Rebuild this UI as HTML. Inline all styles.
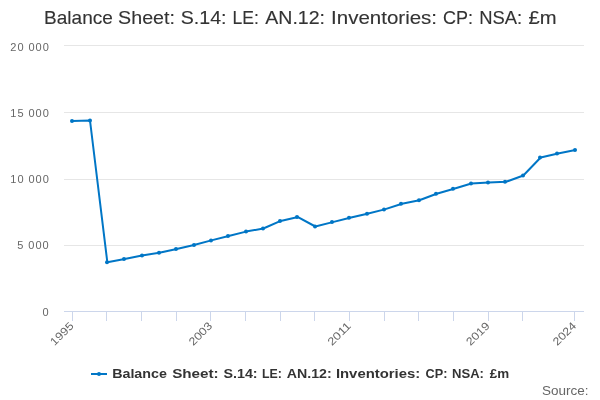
<!DOCTYPE html>
<html><head><meta charset="utf-8"><style>
html,body{margin:0;padding:0;background:#fff;width:600px;height:400px;overflow:hidden}
svg{display:block;font-family:"Liberation Sans",sans-serif;will-change:transform}
</style></head><body>
<svg width="600" height="400" viewBox="0 0 600 400">
<rect width="600" height="400" fill="#fff"/>
<g font-size="18.6" fill="#333" stroke="#333" stroke-width="0.12">
<text x="44.14" y="24" textLength="68.70" lengthAdjust="spacingAndGlyphs">Balance</text>
<text x="118.11" y="24" textLength="56.79" lengthAdjust="spacingAndGlyphs">Sheet:</text>
<text x="180.71" y="24" textLength="45.78" lengthAdjust="spacingAndGlyphs">S.14:</text>
<text x="232.56" y="24" textLength="26.34" lengthAdjust="spacingAndGlyphs">LE:</text>
<text x="265.26" y="24" textLength="59.77" lengthAdjust="spacingAndGlyphs">AN.12:</text>
<text x="331.11" y="24" textLength="105.96" lengthAdjust="spacingAndGlyphs">Inventories:</text>
<text x="442.99" y="24" textLength="29.95" lengthAdjust="spacingAndGlyphs">CP:</text>
<text x="479.19" y="24" textLength="42.99" lengthAdjust="spacingAndGlyphs">NSA:</text>
<text x="528.43" y="24" textLength="28.11" lengthAdjust="spacingAndGlyphs">£m</text>
</g>
<g stroke="#e6e6e6" stroke-width="1">
<line x1="64" y1="45.5" x2="584" y2="45.5"/>
<line x1="64" y1="112.5" x2="584" y2="112.5"/>
<line x1="64" y1="179.5" x2="584" y2="179.5"/>
<line x1="64" y1="245.5" x2="584" y2="245.5"/>
</g>
<g stroke="#ccd6eb" stroke-width="1">
<line x1="64" y1="311.5" x2="584" y2="311.5"/>
<line x1="72.5" y1="311" x2="72.5" y2="321"/>
<line x1="106.5" y1="311" x2="106.5" y2="321"/>
<line x1="141.5" y1="311" x2="141.5" y2="321"/>
<line x1="176.5" y1="311" x2="176.5" y2="321"/>
<line x1="210.5" y1="311" x2="210.5" y2="321"/>
<line x1="245.5" y1="311" x2="245.5" y2="321"/>
<line x1="280.5" y1="311" x2="280.5" y2="321"/>
<line x1="314.5" y1="311" x2="314.5" y2="321"/>
<line x1="349.5" y1="311" x2="349.5" y2="321"/>
<line x1="384.5" y1="311" x2="384.5" y2="321"/>
<line x1="418.5" y1="311" x2="418.5" y2="321"/>
<line x1="453.5" y1="311" x2="453.5" y2="321"/>
<line x1="488.5" y1="311" x2="488.5" y2="321"/>
<line x1="522.5" y1="311" x2="522.5" y2="321"/>
<line x1="574.5" y1="311" x2="574.5" y2="321"/>
</g>
<g font-size="11" fill="#666" lengthAdjust="spacingAndGlyphs">
<text x="10.3" y="51" textLength="38.5">20 000</text>
<text x="10.3" y="117" textLength="38.5">15 000</text>
<text x="10.3" y="183" textLength="38.5">10 000</text>
<text x="17.2" y="249" textLength="31.5">5 000</text>
<text x="48.5" y="316" text-anchor="end">0</text>
</g>
<g font-size="11" fill="#666">
<text x="74.37" y="326.5" transform="rotate(-45 74.37 326.5)" text-anchor="end" textLength="28" lengthAdjust="spacingAndGlyphs">1995</text>
<text x="213.03" y="326.5" transform="rotate(-45 213.03 326.5)" text-anchor="end" textLength="28" lengthAdjust="spacingAndGlyphs">2003</text>
<text x="351.70" y="326.5" transform="rotate(-45 351.70 326.5)" text-anchor="end" textLength="28" lengthAdjust="spacingAndGlyphs">2011</text>
<text x="490.37" y="326.5" transform="rotate(-45 490.37 326.5)" text-anchor="end" textLength="28" lengthAdjust="spacingAndGlyphs">2019</text>
<text x="577.03" y="326.5" transform="rotate(-45 577.03 326.5)" text-anchor="end" textLength="28" lengthAdjust="spacingAndGlyphs">2024</text>
</g>
<polyline points="72.67,121.00 90.00,120.50 107.33,262.25 124.67,259.10 142.00,255.40 159.33,252.75 176.67,249.00 194.00,245.00 211.33,240.40 228.67,236.00 246.00,231.60 263.33,228.50 280.67,220.90 298.00,217.10 315.33,226.50 332.67,222.10 350.00,217.75 367.33,213.75 384.67,209.40 402.00,203.75 419.33,200.25 436.67,193.75 454.00,188.75 471.33,183.50 488.67,182.50 506.00,181.80 523.33,175.50 540.67,157.50 558.00,153.45 575.33,150.00" fill="none" stroke="#0076c6" stroke-width="2" stroke-linejoin="round" stroke-linecap="round"/>
<g fill="#0076c6">
<circle cx="72" cy="121.00" r="2"/>
<circle cx="90" cy="120.50" r="2"/>
<circle cx="107" cy="262.25" r="2"/>
<circle cx="124" cy="259.10" r="2"/>
<circle cx="142" cy="255.40" r="2"/>
<circle cx="159" cy="252.75" r="2"/>
<circle cx="176" cy="249.00" r="2"/>
<circle cx="194" cy="245.00" r="2"/>
<circle cx="211" cy="240.40" r="2"/>
<circle cx="228" cy="236.00" r="2"/>
<circle cx="246" cy="231.60" r="2"/>
<circle cx="263" cy="228.50" r="2"/>
<circle cx="280" cy="220.90" r="2"/>
<circle cx="297" cy="217.10" r="2"/>
<circle cx="315" cy="226.50" r="2"/>
<circle cx="332" cy="222.10" r="2"/>
<circle cx="349" cy="217.75" r="2"/>
<circle cx="367" cy="213.75" r="2"/>
<circle cx="384" cy="209.40" r="2"/>
<circle cx="401" cy="203.75" r="2"/>
<circle cx="419" cy="200.25" r="2"/>
<circle cx="436" cy="193.75" r="2"/>
<circle cx="453" cy="188.75" r="2"/>
<circle cx="471" cy="183.50" r="2"/>
<circle cx="488" cy="182.50" r="2"/>
<circle cx="505" cy="181.80" r="2"/>
<circle cx="523" cy="175.50" r="2"/>
<circle cx="540" cy="157.50" r="2"/>
<circle cx="557" cy="153.45" r="2"/>
<circle cx="575" cy="150.00" r="2"/>
</g>
<line x1="91" y1="374" x2="107" y2="374" stroke="#0076c6" stroke-width="2"/>
<circle cx="99" cy="374" r="2" fill="#0076c6"/>
<g font-size="12" font-weight="bold" fill="#333">
<text x="112.15" y="378" textLength="54.74" lengthAdjust="spacingAndGlyphs">Balance</text>
<text x="172.16" y="378" textLength="46.50" lengthAdjust="spacingAndGlyphs">Sheet:</text>
<text x="223.49" y="378" textLength="34.14" lengthAdjust="spacingAndGlyphs">S.14:</text>
<text x="262.07" y="378" textLength="19.92" lengthAdjust="spacingAndGlyphs">LE:</text>
<text x="286.75" y="378" textLength="44.92" lengthAdjust="spacingAndGlyphs">AN.12:</text>
<text x="335.91" y="378" textLength="84.27" lengthAdjust="spacingAndGlyphs">Inventories:</text>
<text x="425.58" y="378" textLength="21.89" lengthAdjust="spacingAndGlyphs">CP:</text>
<text x="452.03" y="378" textLength="31.93" lengthAdjust="spacingAndGlyphs">NSA:</text>
<text x="489.76" y="378" textLength="19.37" lengthAdjust="spacingAndGlyphs">£m</text>
</g>
<text x="542" y="395" font-size="12" fill="#666" textLength="46.5" lengthAdjust="spacingAndGlyphs">Source:</text>
</svg>
</body></html>
